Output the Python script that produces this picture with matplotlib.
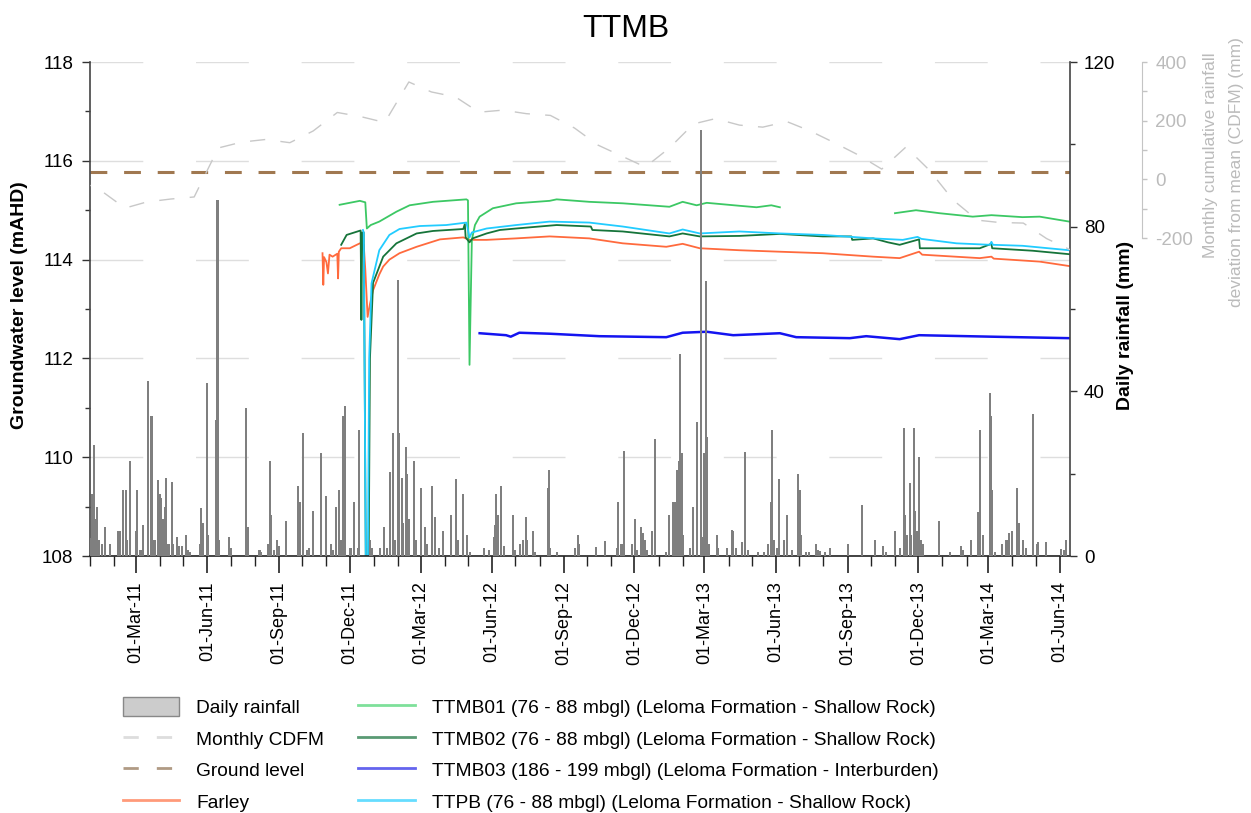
import numpy as np
import pandas as pd
import matplotlib
matplotlib.use('Agg')
import matplotlib.pyplot as plt
import matplotlib.dates as mdates
from matplotlib.ticker import MultipleLocator, FixedLocator
from matplotlib.lines import Line2D
from matplotlib.patches import Patch

plt.rcParams['font.family'] = ['Liberation Sans', 'DejaVu Sans']
plt.rcParams['axes.unicode_minus'] = False

# daily rainfall (mm)
rain = [
    ('2011-01-02', 4.4), ('2011-01-04', 15), ('2011-01-06', 27), ('2011-01-08', 9), ('2011-01-10', 12),
    ('2011-01-12', 4), ('2011-01-16', 3), ('2011-01-20', 7), ('2011-01-27', 3),
    ('2011-02-06', 6), ('2011-02-08', 6), ('2011-02-13', 16), ('2011-02-16', 16), ('2011-02-18', 4), ('2011-02-21', 23),
    ('2011-03-01', 6), ('2011-03-03', 16), ('2011-03-07', 1.5), ('2011-03-10', 7.5), ('2011-03-17', 42.5),
    ('2011-03-20', 34), ('2011-03-22', 34), ('2011-03-25', 4), ('2011-03-29', 18.5),
    ('2011-04-01', 15), ('2011-04-02', 14), ('2011-04-05', 9), ('2011-04-07', 12), ('2011-04-09', 19),
    ('2011-04-12', 3), ('2011-04-16', 18), ('2011-04-18', 3), ('2011-04-23', 4.5), ('2011-04-26', 2.5), ('2011-04-29', 2.5),
    ('2011-05-04', 5), ('2011-05-07', 1.5), ('2011-05-10', 1), ('2011-05-22', 3), ('2011-05-24', 11.7),
    ('2011-05-26', 8), ('2011-05-31', 42),
    ('2011-06-02', 5), ('2011-06-12', 33), ('2011-06-14', 86.5), ('2011-06-16', 4), ('2011-06-29', 4.5),
    ('2011-07-01', 2), ('2011-07-21', 36), ('2011-07-23', 7),
    ('2011-08-07', 1.5), ('2011-08-09', 1), ('2011-08-18', 3), ('2011-08-20', 23), ('2011-08-22', 10),
    ('2011-08-26', 1.5), ('2011-08-29', 4),
    ('2011-09-01', 2.5), ('2011-09-10', 8.5), ('2011-09-25', 17), ('2011-09-28', 13),
    ('2011-10-02', 30), ('2011-10-07', 1.5), ('2011-10-10', 2), ('2011-10-15', 11), ('2011-10-25', 25), ('2011-10-31', 14.5),
    ('2011-11-07', 3), ('2011-11-10', 1.5), ('2011-11-13', 12), ('2011-11-17', 16), ('2011-11-20', 4),
    ('2011-11-23', 34), ('2011-11-25', 36.4),
    ('2011-12-01', 2), ('2011-12-03', 2), ('2011-12-07', 13), ('2011-12-11', 2), ('2011-12-13', 30.6),
    ('2011-12-27', 4), ('2011-12-29', 2),
    ('2012-01-09', 2), ('2012-01-14', 7), ('2012-01-18', 2), ('2012-01-22', 20.5), ('2012-01-25', 30), ('2012-01-28', 4),
    ('2012-02-01', 67), ('2012-02-02', 30), ('2012-02-06', 19), ('2012-02-07', 8), ('2012-02-11', 26.5),
    ('2012-02-13', 20), ('2012-02-15', 9), ('2012-02-21', 23), ('2012-02-24', 4),
    ('2012-03-02', 16.5), ('2012-03-07', 7), ('2012-03-09', 3), ('2012-03-16', 17), ('2012-03-19', 9.5),
    ('2012-03-25', 2), ('2012-03-30', 6),
    ('2012-04-09', 10), ('2012-04-16', 18.6), ('2012-04-18', 4), ('2012-04-24', 15), ('2012-04-30', 5),
    ('2012-05-03', 1), ('2012-05-22', 2), ('2012-05-28', 1.5),
    ('2012-06-03', 4.5), ('2012-06-05', 7.5), ('2012-06-06', 15), ('2012-06-09', 10), ('2012-06-12', 17),
    ('2012-06-16', 2.5), ('2012-06-28', 10), ('2012-06-30', 1.5),
    ('2012-07-07', 3), ('2012-07-11', 4), ('2012-07-14', 9.5), ('2012-07-16', 4), ('2012-07-24', 6), ('2012-07-26', 1),
    ('2012-08-12', 16.5), ('2012-08-13', 21), ('2012-08-15', 2), ('2012-08-23', 1),
    ('2012-09-15', 2), ('2012-09-19', 5), ('2012-09-21', 3),
    ('2012-10-13', 2.3), ('2012-10-24', 3.7),
    ('2012-11-08', 2), ('2012-11-10', 13), ('2012-11-14', 3), ('2012-11-16', 3), ('2012-11-18', 25.4), ('2012-11-28', 3),
    ('2012-12-02', 9), ('2012-12-04', 1.5), ('2012-12-10', 7), ('2012-12-12', 5.5), ('2012-12-14', 4),
    ('2012-12-17', 1.5), ('2012-12-23', 6), ('2012-12-27', 28.5),
    ('2013-01-11', 1), ('2013-01-15', 10), ('2013-01-19', 5), ('2013-01-20', 13), ('2013-01-22', 13),
    ('2013-01-25', 21), ('2013-01-27', 23), ('2013-01-29', 49), ('2013-01-31', 25),
    ('2013-02-02', 5), ('2013-02-10', 2), ('2013-02-14', 12), ('2013-02-19', 32.6), ('2013-02-20', 8),
    ('2013-02-24', 103.5), ('2013-02-26', 4.5), ('2013-02-28', 25),
    ('2013-03-03', 66.8), ('2013-03-04', 29), ('2013-03-07', 3), ('2013-03-17', 5), ('2013-03-19', 2), ('2013-03-30', 2),
    ('2013-04-06', 6.3), ('2013-04-07', 6), ('2013-04-11', 2), ('2013-04-18', 3.5), ('2013-04-22', 25.3), ('2013-04-26', 1.5),
    ('2013-05-09', 1), ('2013-05-17', 1), ('2013-05-22', 3), ('2013-05-25', 13), ('2013-05-27', 30.5), ('2013-05-29', 4),
    ('2013-06-02', 2), ('2013-06-05', 18.6), ('2013-06-11', 4), ('2013-06-15', 10), ('2013-06-22', 1.5), ('2013-06-29', 20),
    ('2013-07-02', 16), ('2013-07-03', 5), ('2013-07-09', 1), ('2013-07-13', 1), ('2013-07-22', 3),
    ('2013-07-25', 1.5), ('2013-07-28', 1.2),
    ('2013-08-03', 1), ('2013-08-10', 2),
    ('2013-09-01', 3), ('2013-09-19', 12.5),
    ('2013-10-06', 4), ('2013-10-17', 2.5), ('2013-10-20', 1),
    ('2013-11-01', 6), ('2013-11-07', 2), ('2013-11-12', 31), ('2013-11-14', 10), ('2013-11-17', 5),
    ('2013-11-20', 17.8), ('2013-11-22', 5), ('2013-11-25', 31), ('2013-11-27', 11), ('2013-11-29', 6),
    ('2013-12-02', 24), ('2013-12-04', 4), ('2013-12-07', 3), ('2013-12-28', 8.5),
    ('2014-01-11', 1), ('2014-01-25', 2.5), ('2014-01-27', 1.5),
    ('2014-02-07', 4), ('2014-02-16', 10.7), ('2014-02-18', 30.6), ('2014-02-22', 5),
    ('2014-03-03', 39.7), ('2014-03-05', 34), ('2014-03-06', 16), ('2014-03-09', 1), ('2014-03-19', 2.8),
    ('2014-03-24', 4), ('2014-03-26', 4), ('2014-03-28', 5.6), ('2014-03-31', 6),
    ('2014-04-07', 16.6), ('2014-04-10', 8), ('2014-04-14', 4), ('2014-04-18', 2), ('2014-04-19', 2), ('2014-04-28', 34.4),
    ('2014-05-02', 3), ('2014-05-04', 3.5), ('2014-05-14', 3.5),
    ('2014-06-03', 1.6), ('2014-06-06', 1.5), ('2014-06-09', 4),
]

# monthly CDFM (mm), one value per month (mid-month), Dec 2010 .. Jun 2014
cdfm_mm = [0,
           -38, -98, -77, -67, -60, 107, 127, 136, 125, 165, 228, 214,
           194, 332, 298, 281, 229, 236, 224, 218, 175, 117, 79, 42,
           107, 189, 207, 185, 178, 197, 165, 125, 83, 35, 110, 32,
           -71, -139, -147, -149, -202, -241]

ground_level = 115.78

farley = [
    ('2011-10-27', 114.13), ('2011-10-28', 113.49), ('2011-10-29', 114.05), ('2011-11-01', 113.95),
    ('2011-11-03', 113.72), ('2011-11-05', 114.10), ('2011-11-09', 114.06), ('2011-11-15', 114.12),
    ('2011-11-16', 113.62), ('2011-11-17', 114.16), ('2011-11-20', 114.23), ('2011-12-01', 114.23),
    ('2011-12-14', 114.33), ('2011-12-19', 114.30), ('2011-12-21', 113.80), ('2011-12-24', 112.84),
    ('2011-12-27', 113.10), ('2011-12-31', 113.38), ('2012-01-08', 113.70), ('2012-01-13', 113.86),
    ('2012-01-21', 114.00), ('2012-02-03', 114.13), ('2012-02-25', 114.26), ('2012-03-26', 114.41),
    ('2012-04-25', 114.45), ('2012-05-03', 114.40), ('2012-05-25', 114.40), ('2012-07-02', 114.43),
    ('2012-08-14', 114.47), ('2012-10-04', 114.43), ('2012-11-16', 114.33), ('2013-01-11', 114.26),
    ('2013-02-01', 114.32), ('2013-02-23', 114.23), ('2013-04-15', 114.19), ('2013-06-06', 114.16),
    ('2013-07-31', 114.13), ('2013-10-04', 114.06), ('2013-11-07', 114.03), ('2013-12-02', 114.16),
    ('2013-12-06', 114.10), ('2014-02-18', 114.03), ('2014-03-05', 114.06), ('2014-03-08', 114.02),
    ('2014-05-06', 113.96), ('2014-06-13', 113.87),
]

ttmb01 = [
    ('2011-11-18', 115.11), ('2011-12-01', 115.15), ('2011-12-14', 115.19), ('2011-12-21', 115.16),
    ('2011-12-23', 114.63), ('2011-12-28', 114.70), ('2012-01-08', 114.77), ('2012-01-30', 114.97),
    ('2012-02-16', 115.10), ('2012-03-17', 115.17), ('2012-04-29', 115.22), ('2012-05-01', 115.20),
    ('2012-05-03', 111.87), ('2012-05-06', 114.40), ('2012-05-10', 114.70), ('2012-05-16', 114.87),
    ('2012-06-02', 115.04), ('2012-07-02', 115.14), ('2012-08-14', 115.19), ('2012-08-23', 115.22),
    ('2012-10-04', 115.17), ('2012-11-16', 115.14), ('2013-01-15', 115.07), ('2013-02-01', 115.17),
    ('2013-02-19', 115.10), ('2013-03-04', 115.15), ('2013-04-15', 115.09), ('2013-05-07', 115.06),
    ('2013-05-26', 115.10), ('2013-06-06', 115.06), ('2013-09-01', np.nan),
    ('2013-11-01', 114.94), ('2013-11-28', 115.00), ('2013-12-28', 114.94), ('2014-02-09', 114.87),
    ('2014-03-05', 114.90), ('2014-04-14', 114.86), ('2014-05-06', 114.87), ('2014-06-13', 114.77),
]

ttmb02 = [
    ('2011-11-20', 114.30), ('2011-11-27', 114.50), ('2011-12-15', 114.59), ('2011-12-16', 112.78),
    ('2011-12-17', 114.55), ('2011-12-19', 114.55), ('2011-12-20', 112.20), ('2011-12-22', 107.00),
    ('2011-12-25', 107.00), ('2011-12-27', 112.00), ('2011-12-31', 113.53), ('2012-01-13', 114.06),
    ('2012-01-30', 114.33), ('2012-02-25', 114.53), ('2012-03-17', 114.58), ('2012-04-25', 114.62),
    ('2012-04-27', 114.72), ('2012-04-28', 114.45), ('2012-05-03', 114.35), ('2012-05-07', 114.43),
    ('2012-05-25', 114.53), ('2012-06-11', 114.60), ('2012-07-02', 114.63), ('2012-08-23', 114.70),
    ('2012-10-06', 114.67), ('2012-10-08', 114.60), ('2012-11-16', 114.57), ('2013-01-15', 114.47),
    ('2013-02-01', 114.53), ('2013-02-23', 114.47), ('2013-04-15', 114.48), ('2013-06-06', 114.52),
    ('2013-07-31', 114.47), ('2013-09-06', 114.47), ('2013-09-07', 114.40), ('2013-10-04', 114.43),
    ('2013-10-23', 114.35), ('2013-11-07', 114.30), ('2013-12-02', 114.41), ('2013-12-03', 114.23),
    ('2014-02-18', 114.23), ('2014-03-05', 114.32), ('2014-03-06', 114.23), ('2014-04-27', 114.18),
    ('2014-06-13', 114.11),
]

ttmb03 = [
    ('2012-05-16', 112.51), ('2012-06-19', 112.47), ('2012-06-25', 112.44), ('2012-07-06', 112.52),
    ('2012-08-14', 112.50), ('2012-10-17', 112.45), ('2013-01-11', 112.43), ('2013-02-01', 112.52),
    ('2013-03-04', 112.54), ('2013-04-07', 112.47), ('2013-06-06', 112.51), ('2013-06-27', 112.43),
    ('2013-09-04', 112.41), ('2013-09-25', 112.45), ('2013-11-07', 112.39), ('2013-12-02', 112.47),
    ('2014-03-05', 112.44), ('2014-06-13', 112.41),
]

ttpb = [
    ('2011-12-18', 114.60), ('2011-12-19', 114.55), ('2011-12-22', 107.00), ('2011-12-24', 107.00),
    ('2011-12-26', 112.00), ('2011-12-29', 113.52), ('2012-01-08', 114.19), ('2012-01-21', 114.50),
    ('2012-02-03', 114.62), ('2012-02-29', 114.68), ('2012-04-03', 114.70), ('2012-04-29', 114.75),
    ('2012-05-03', 114.45), ('2012-05-06', 114.55), ('2012-05-25', 114.63), ('2012-07-02', 114.70),
    ('2012-08-14', 114.77), ('2012-10-04', 114.75), ('2012-11-16', 114.67), ('2013-01-15', 114.53),
    ('2013-02-01', 114.61), ('2013-02-23', 114.53), ('2013-04-15', 114.57), ('2013-06-06', 114.53),
    ('2013-07-31', 114.50), ('2013-10-04', 114.43), ('2013-11-11', 114.40), ('2013-11-30', 114.46),
    ('2013-12-05', 114.42), ('2014-01-19', 114.33), ('2014-03-03', 114.30), ('2014-03-05', 114.36),
    ('2014-03-07', 114.30), ('2014-04-14', 114.28), ('2014-06-13', 114.19),
]


def to_frame(pairs):
    df = pd.DataFrame(pairs, columns=['date', 'value'])
    df['date'] = pd.to_datetime(df['date'])
    return df


rain_df = to_frame(rain)
cdfm_dates = pd.date_range('2010-12-01', '2014-06-01', freq='MS') + pd.Timedelta(days=14)

fig = plt.figure(figsize=(12.51, 8.13), dpi=100)
ax = fig.add_axes([0.0719, 0.3161, 0.7834, 0.6076])
ax2 = ax.twinx()
ax3 = ax.twinx()

# groundwater levels
ax.yaxis.grid(True, color='#dedede', lw=1.0, linestyle=(0, (38, 38)))
ax.set_axisbelow(True)
ax.axhline(ground_level, color='#A07850', lw=2.2, dashes=(5.5, 5.5))

series = [
    (farley, '#FF6A3D', 1.3),
    (ttmb01, '#3CC864', 1.3),
    (ttmb02, '#16743A', 1.3),
    (ttmb03, '#1414F0', 1.8),
    (ttpb, '#22CCFF', 1.3),
]
for pairs, col, lw in series:
    d = to_frame(pairs)
    ax.plot(d['date'], d['value'], color=col, lw=lw)

ax.set_ylim(108, 118)
ax.set_xlim(pd.Timestamp('2011-01-01'), pd.Timestamp('2014-06-14'))
ax.yaxis.set_major_locator(MultipleLocator(2))
ax.yaxis.set_minor_locator(MultipleLocator(1))
ax.xaxis.set_major_locator(mdates.MonthLocator(bymonth=[3, 6, 9, 12], bymonthday=1))
ax.xaxis.set_minor_locator(mdates.MonthLocator(bymonthday=1))
ax.xaxis.set_major_formatter(mdates.DateFormatter('%d-%b-%y'))
ax.tick_params(axis='y', which='major', length=6, width=1, color='#333333', labelsize=13.5, pad=6)
ax.tick_params(axis='y', which='minor', length=3.5, width=1, color='#333333')
ax.tick_params(axis='x', which='major', length=12, width=1.2, color='#222222', labelsize=13, pad=6,
               labelrotation=90)
ax.tick_params(axis='x', which='minor', length=7.5, width=1, color='#222222')
for s in ['top', 'right']:
    ax.spines[s].set_visible(False)
ax.spines['left'].set_color('#444444')
ax.spines['left'].set_linewidth(1.2)
ax.spines['bottom'].set_color('#222222')
ax.spines['bottom'].set_linewidth(1.2)

# daily rainfall
ax2.bar(rain_df['date'], rain_df['value'], width=2.6, color='#7f7f7f', lw=0)
ax2.set_ylim(0, 120)
ax2.yaxis.set_major_locator(MultipleLocator(40))
ax2.yaxis.set_minor_locator(MultipleLocator(20))
ax2.tick_params(axis='y', which='major', length=5, width=1, color='#333333', labelsize=13.5, pad=5)
ax2.tick_params(axis='y', which='minor', length=3.5, width=1, color='#333333')
for s in ['top', 'left', 'bottom']:
    ax2.spines[s].set_visible(False)
ax2.spines['right'].set_color('#444444')
ax2.spines['right'].set_linewidth(1.2)

# monthly CDFM
ax3.plot(cdfm_dates, cdfm_mm, color='#c8c8c8', lw=1.0, dashes=(11, 11))
ax3.set_ylim(-1284, 400)
ax3.spines['right'].set_position(('outward', 52))
ax3.spines['right'].set_bounds(-200, 400)
ax3.spines['right'].set_color('#c4c4c4')
ax3.yaxis.set_major_locator(FixedLocator([-200, 0, 200, 400]))
ax3.yaxis.set_minor_locator(FixedLocator([-100, 100, 300]))
ax3.tick_params(axis='y', which='major', length=3.5, width=1, color='#c4c4c4', labelcolor='#bbbbbb',
                labelsize=13.5, pad=6)
ax3.tick_params(axis='y', which='minor', length=3.5, width=1, color='#c4c4c4')
for s in ['top', 'left', 'bottom']:
    ax3.spines[s].set_visible(False)

# labels
fig.text(0.5, 1 - 29 / 813, 'TTMB', fontsize=23, ha='center', va='center')
fig.text(20 / 1251, 1 - 305 / 813, 'Groundwater level (mAHD)', rotation=90, fontsize=14,
         fontweight='bold', ha='center', va='center')
fig.text(1125 / 1251, 1 - 325 / 813, 'Daily rainfall (mm)', rotation=90, fontsize=14,
         fontweight='bold', ha='center', va='center')
fig.text(1210 / 1251, 1 - 155 / 813, 'Monthly cumulative rainfall', rotation=90, fontsize=12.5,
         color='#bbbbbb', ha='center', va='center')
fig.text(1237 / 1251, 1 - 172 / 813, 'deviation from mean (CDFM) (mm)', rotation=90, fontsize=12.5,
         color='#bbbbbb', ha='center', va='center')

# legend
handles = [
    Patch(facecolor='#cccccc', edgecolor='#888888', lw=1),
    Line2D([], [], color='#dddddd', lw=2, dashes=(5.5, 6.5)),
    Line2D([], [], color='#b09a84', lw=2, dashes=(5.5, 6.5)),
    Line2D([], [], color='#ff9a7a', lw=2),
    Line2D([], [], color='#7ee09a', lw=2),
    Line2D([], [], color='#5a9a74', lw=2),
    Line2D([], [], color='#6464ee', lw=2),
    Line2D([], [], color='#66ddff', lw=2),
]
labels = ['Daily rainfall', 'Monthly CDFM', 'Ground level', 'Farley',
          'TTMB01 (76 - 88 mbgl) (Leloma Formation - Shallow Rock)',
          'TTMB02 (76 - 88 mbgl) (Leloma Formation - Shallow Rock)',
          'TTMB03 (186 - 199 mbgl) (Leloma Formation - Interburden)',
          'TTPB (76 - 88 mbgl) (Leloma Formation - Shallow Rock)']
fig.legend(handles, labels, loc='upper left', bbox_to_anchor=(122.7 / 1251, 1 - 697 / 813), ncol=2,
           frameon=False, fontsize=13.8, handlelength=2.95, handleheight=1.15, handletextpad=0.9,
           columnspacing=1.75, labelspacing=0.6, borderpad=0, borderaxespad=0)

fig.savefig('out.png', dpi=100)
